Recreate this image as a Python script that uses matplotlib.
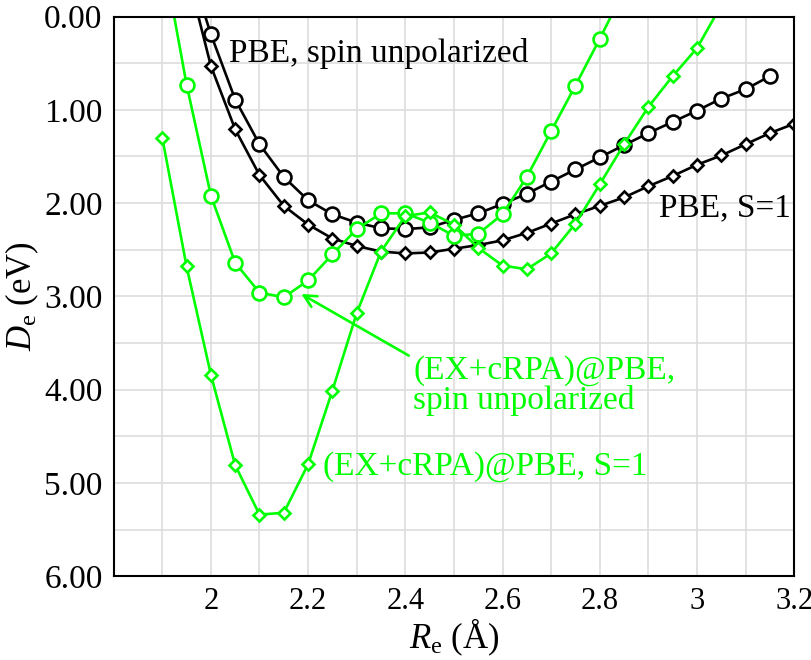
import numpy as np
import matplotlib
matplotlib.use("Agg")
import matplotlib.pyplot as plt

plt.rcParams["font.family"] = "serif"
plt.rcParams["font.serif"] = ["Liberation Serif", "DejaVu Serif"]
plt.rcParams["mathtext.fontset"] = "custom"
plt.rcParams["mathtext.rm"] = "Liberation Serif"
plt.rcParams["mathtext.it"] = "Liberation Serif:italic"

GREEN = "#00ff00"

# PBE, spin unpolarized (circles, black)
r_pbe_u = [1.95, 2.0, 2.05, 2.1, 2.15, 2.2, 2.25, 2.3, 2.35, 2.4, 2.45, 2.5, 2.55, 2.6,
           2.65, 2.7, 2.75, 2.8, 2.85, 2.9, 2.95, 3.0, 3.05, 3.1, 3.15]
d_pbe_u = [-0.63, 0.19, 0.89, 1.37, 1.72, 1.97, 2.12, 2.21, 2.27, 2.28, 2.26, 2.18, 2.11, 2.01,
           1.90, 1.77, 1.64, 1.51, 1.38, 1.25, 1.13, 1.01, 0.88, 0.78, 0.64]

# PBE, S=1 (diamonds, black)
r_pbe_s1 = [1.95, 2.0, 2.05, 2.1, 2.15, 2.2, 2.25, 2.3, 2.35, 2.4, 2.45, 2.5, 2.55, 2.6,
            2.65, 2.7, 2.75, 2.8, 2.85, 2.9, 2.95, 3.0, 3.05, 3.1, 3.15, 3.2]
d_pbe_s1 = [-0.50, 0.53, 1.21, 1.70, 2.03, 2.23, 2.38, 2.46, 2.52, 2.54, 2.53, 2.49, 2.45, 2.40,
            2.32, 2.22, 2.12, 2.03, 1.94, 1.82, 1.71, 1.59, 1.49, 1.37, 1.25, 1.15]

# (EX+cRPA)@PBE, spin unpolarized (circles, green)
r_rpa_u = [1.9, 1.95, 2.0, 2.05, 2.1, 2.15, 2.2, 2.25, 2.3, 2.35, 2.4, 2.45, 2.5, 2.55,
           2.6, 2.65, 2.7, 2.75, 2.8, 2.85]
d_rpa_u = [-0.70, 0.73, 1.92, 2.64, 2.96, 3.01, 2.83, 2.55, 2.28, 2.11, 2.11, 2.21, 2.35, 2.33,
           2.12, 1.72, 1.23, 0.74, 0.24, -0.28]

# (EX+cRPA)@PBE, S=1 (diamonds, green)
r_rpa_s1 = [1.9, 1.95, 2.0, 2.05, 2.1, 2.15, 2.2, 2.25, 2.3, 2.35, 2.4, 2.45, 2.5, 2.55,
            2.6, 2.65, 2.7, 2.75, 2.8, 2.85, 2.9, 2.95, 3.0, 3.05]
d_rpa_s1 = [1.30, 2.68, 3.84, 4.81, 5.34, 5.32, 4.80, 4.01, 3.18, 2.52, 2.14, 2.10, 2.23, 2.48,
            2.67, 2.71, 2.54, 2.22, 1.80, 1.37, 0.97, 0.64, 0.34, -0.12]

fig = plt.figure(figsize=(8.12, 6.6), dpi=100)
ax = fig.add_axes([0.140, 0.127, 0.838, 0.848])

style = dict(lw=1.9, mew=1.9, mfc="white")
ax.plot(r_pbe_u, d_pbe_u, "-o", color="black", ms=10, **style)
ax.plot(r_pbe_s1, d_pbe_s1, "-D", color="black", ms=6.5, **style)
ax.plot(r_rpa_u, d_rpa_u, "-o", color=GREEN, ms=10, **style)
ax.plot(r_rpa_s1, d_rpa_s1, "-D", color=GREEN, ms=6.5, **style)

ax.set_xlim(1.8, 3.2)
ax.set_ylim(6, 0)
ax.set_xticks([2, 2.2, 2.4, 2.6, 2.8, 3, 3.2])
ax.set_xticklabels(["2", "2.2", "2.4", "2.6", "2.8", "3", "3.2"])
ax.set_xticks(np.arange(1.9, 3.15, 0.1), minor=True)
ax.set_yticks(np.arange(0, 7, 1))
ax.set_yticklabels(["%.2f" % v for v in range(7)])
ax.set_yticks(np.arange(0.5, 6, 1), minor=True)
ax.tick_params(which="both", length=0, pad=8)
ax.tick_params(axis="x", labelsize=22)
ax.tick_params(axis="y", labelsize=24)
ax.grid(True, which="both", color="#dddddd", lw=1.2)
ax.set_axisbelow(True)
for s in ax.spines.values():
    s.set_linewidth(1.5)

ax.set_xlabel(r"$R_\mathrm{e}$ (Å)", fontsize=25, labelpad=0)
ax.set_ylabel(r"$D_\mathrm{e}$ (eV)", fontsize=25, labelpad=2)

ax.text(2.037, 0.40, "PBE, spin unpolarized", fontsize=24, va="center", ha="left")
ax.text(2.922, 2.05, "PBE, S=1", fontsize=24, va="center", ha="left")
ax.text(2.231, 4.82, "(EX+cRPA)@PBE, S=1", fontsize=24, va="center", ha="left", color=GREEN)
ax.text(2.416, 3.96, "(EX+cRPA)@PBE,\nspin unpolarized", fontsize=24, va="center",
        ha="left", color=GREEN, linespacing=0.95)
ax.annotate("", xy=(2.181, 2.96), xytext=(2.412, 3.65),
            arrowprops=dict(arrowstyle="->", color=GREEN, lw=1.9, mutation_scale=22))

fig.savefig("out.png", dpi=100)
